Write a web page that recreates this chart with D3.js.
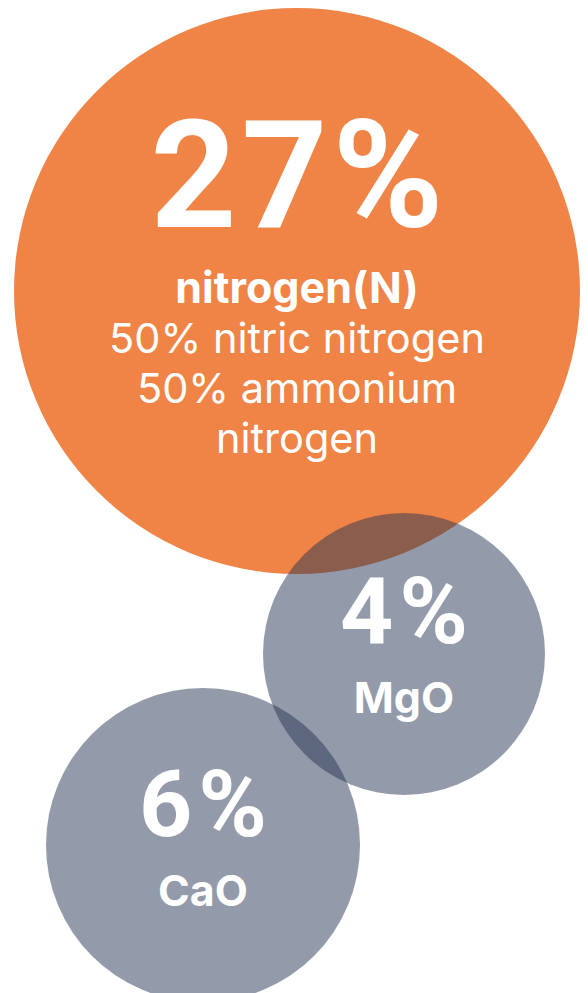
<!DOCTYPE html>
<html><head><meta charset="utf-8">
<script src="https://cdn.jsdelivr.net/npm/d3@7/dist/d3.min.js"></script>
<style>html,body{margin:0;padding:0;background:#fff;overflow:hidden}</style>
</head><body>
<svg id="c" width="588" height="993"></svg>
<script>
const nutrients = ["nitrogen(N)", "MgO", "CaO"];
const values = [27, 4, 6];
const valueLabels = ["27%", "4%", "6%"];
const subLines = ["50% nitric nitrogen", "50% ammonium", "nitrogen"];

const svg = d3.select("#c");
const layout = [
  {cx: 297, cy: 291, r: 283, fill: "#EF8446", op: 1, big: 150, ls: 5, bigY: 227, nameY: 303},
  {cx: 404, cy: 654, r: 141, fill: "#273553", op: 0.5, big: 93, ls: 6, bigY: 643, nameY: 713},
  {cx: 203, cy: 845, r: 157, fill: "#273553", op: 0.5, big: 93, ls: 6, bigY: 836, nameY: 906}
];
const data = nutrients.map((n, i) => ({name: n, value: values[i], label: valueLabels[i], ...layout[i]}));

svg.selectAll("circle").data(data).join("circle")
  .attr("cx", d => d.cx).attr("cy", d => d.cy).attr("r", d => d.r)
  .attr("fill", d => d.fill).attr("fill-opacity", d => d.op);

svg.selectAll("text.big").data(data).join("text").attr("class", "big")
  .attr("x", d => d.cx + d.ls / 2).attr("y", d => d.bigY)
  .attr("text-anchor", "middle").attr("fill", "#fff")
  .attr("font-family", "Roboto, sans-serif").attr("font-weight", 700)
  .attr("letter-spacing", d => d.ls)
  .attr("font-size", d => d.big).text(d => d.label);

svg.selectAll("text.name").data(data).join("text").attr("class", "name")
  .attr("x", d => d.cx).attr("y", d => d.nameY)
  .attr("text-anchor", "middle").attr("fill", "#fff")
  .attr("font-family", "Inter, sans-serif").attr("font-weight", 700)
  .attr("font-size", 43).text(d => d.name);

svg.append("g").selectAll("text").data(subLines).join("text")
  .attr("x", data[0].cx).attr("y", (d, i) => 353 + i * 50)
  .attr("text-anchor", "middle").attr("fill", "#fff")
  .attr("font-family", "Inter, sans-serif").attr("font-weight", 400)
  .attr("font-size", 41.5).text(d => d);
</script>
</body></html>
